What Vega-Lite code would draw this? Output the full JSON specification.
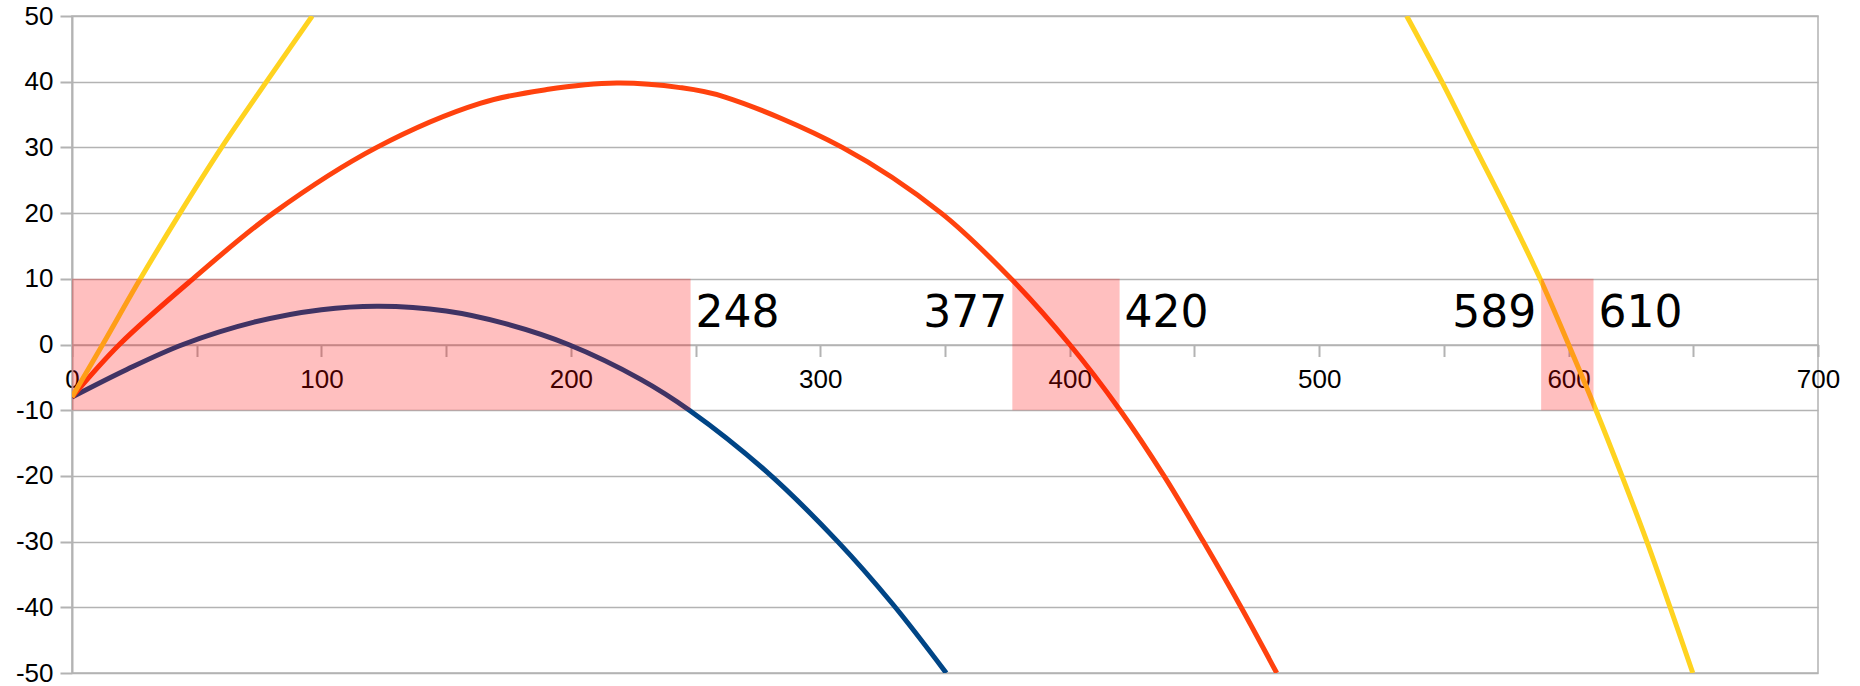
{
  "$schema": "https://vega.github.io/schema/vega-lite/v6.json",
  "width": 1746,
  "height": 657,
  "autosize": {"type": "none"},
  "padding": {"left": 72, "top": 16, "right": 42, "bottom": 13},
  "background": "white",
  "config": {
    "view": {"stroke": "#b3b3b3", "strokeWidth": 1.5}
  },
  "datasets": {
    "curves": [
      {"series": "a", "segment": "a", "x": 0, "y": -8},
      {"series": "a", "segment": "a", "x": 22, "y": -3.8},
      {"series": "a", "segment": "a", "x": 44.5, "y": 0},
      {"series": "a", "segment": "a", "x": 73, "y": 3.4},
      {"series": "a", "segment": "a", "x": 100, "y": 5.3},
      {"series": "a", "segment": "a", "x": 123, "y": 5.83},
      {"series": "a", "segment": "a", "x": 150, "y": 5.1},
      {"series": "a", "segment": "a", "x": 173, "y": 3.25},
      {"series": "a", "segment": "a", "x": 199, "y": 0},
      {"series": "a", "segment": "a", "x": 228, "y": -5.3},
      {"series": "a", "segment": "a", "x": 247.5, "y": -10},
      {"series": "a", "segment": "a", "x": 278, "y": -19.2},
      {"series": "a", "segment": "a", "x": 307, "y": -30.0},
      {"series": "a", "segment": "a", "x": 329, "y": -39.5},
      {"series": "a", "segment": "a", "x": 350.5, "y": -50},
      {"series": "b", "segment": "b", "x": 0, "y": -8},
      {"series": "b", "segment": "b", "x": 19, "y": 0},
      {"series": "b", "segment": "b", "x": 48.5, "y": 10},
      {"series": "b", "segment": "b", "x": 80.7, "y": 20},
      {"series": "b", "segment": "b", "x": 122.2, "y": 30},
      {"series": "b", "segment": "b", "x": 163.6, "y": 36.7},
      {"series": "b", "segment": "b", "x": 190.3, "y": 38.8},
      {"series": "b", "segment": "b", "x": 218.4, "y": 39.8},
      {"series": "b", "segment": "b", "x": 243.8, "y": 39.1},
      {"series": "b", "segment": "b", "x": 261.5, "y": 37.7},
      {"series": "b", "segment": "b", "x": 308.8, "y": 30},
      {"series": "b", "segment": "b", "x": 348.5, "y": 20},
      {"series": "b", "segment": "b", "x": 376.5, "y": 10},
      {"series": "b", "segment": "b", "x": 400, "y": 0},
      {"series": "b", "segment": "b", "x": 420.2, "y": -10},
      {"series": "b", "segment": "b", "x": 437.8, "y": -20},
      {"series": "b", "segment": "b", "x": 453.6, "y": -30},
      {"series": "b", "segment": "b", "x": 468.7, "y": -40},
      {"series": "b", "segment": "b", "x": 483, "y": -50},
      {"series": "c", "segment": "c1", "x": 0, "y": -8},
      {"series": "c", "segment": "c1", "x": 12.3, "y": 0},
      {"series": "c", "segment": "c1", "x": 27.4, "y": 10},
      {"series": "c", "segment": "c1", "x": 43.3, "y": 20},
      {"series": "c", "segment": "c1", "x": 60, "y": 30},
      {"series": "c", "segment": "c1", "x": 78, "y": 40},
      {"series": "c", "segment": "c1", "x": 96.3, "y": 50},
      {"series": "c", "segment": "c2", "x": 535.1, "y": 50},
      {"series": "c", "segment": "c2", "x": 549.2, "y": 40},
      {"series": "c", "segment": "c2", "x": 562.5, "y": 30},
      {"series": "c", "segment": "c2", "x": 575.9, "y": 20},
      {"series": "c", "segment": "c2", "x": 588.6, "y": 10},
      {"series": "c", "segment": "c2", "x": 600, "y": 0},
      {"series": "c", "segment": "c2", "x": 611, "y": -10},
      {"series": "c", "segment": "c2", "x": 621.4, "y": -20},
      {"series": "c", "segment": "c2", "x": 631.4, "y": -30},
      {"series": "c", "segment": "c2", "x": 640.7, "y": -40},
      {"series": "c", "segment": "c2", "x": 649.8, "y": -50}
    ],
    "zones": [
      {"start": 0, "end": 248},
      {"start": 377, "end": 420},
      {"start": 589, "end": 610}
    ]
  },
  "layer": [
    {
      "data": {"name": "curves"},
      "mark": {"type": "line", "strokeWidth": 5, "interpolate": "catmull-rom", "clip": true},
      "encoding": {
        "x": {
          "field": "x", "type": "quantitative", "title": null,
          "scale": {"domain": [0, 700], "nice": false, "zero": false},
          "axis": {
            "values": [0, 50, 100, 150, 200, 250, 300, 350, 400, 450, 500, 550, 600, 650, 700],
            "labelExpr": "datum.value % 100 == 0 ? '' + datum.value : ''",
            "offset": -328.5,
            "grid": false,
            "domainColor": "#b3b3b3", "domainWidth": 1.5,
            "tickColor": "#b3b3b3", "tickWidth": 2, "tickSize": 12,
            "labelFont": "Liberation Sans", "labelFontSize": 26, "labelColor": "#000000",
            "labelPadding": 10, "labelFlush": false, "labelOverlap": false
          }
        },
        "y": {
          "field": "y", "type": "quantitative", "title": null,
          "scale": {"domain": [-50, 50], "nice": false, "zero": false},
          "axis": {
            "values": [-50, -40, -30, -20, -10, 0, 10, 20, 30, 40, 50],
            "labelExpr": "'' + datum.value",
            "grid": true, "gridColor": "#b3b3b3", "gridWidth": 1.5,
            "domainColor": "#b3b3b3", "domainWidth": 2,
            "tickColor": "#b3b3b3", "tickWidth": 2, "tickSize": 12,
            "labelFont": "Liberation Sans", "labelFontSize": 26, "labelColor": "#000000",
            "labelPadding": 7, "labelFlush": false, "labelOverlap": false
          }
        },
        "color": {
          "field": "series", "type": "nominal",
          "scale": {"domain": ["a", "b", "c"], "range": ["#004586", "#ff420e", "#ffd320"]},
          "legend": null
        },
        "detail": {"field": "segment", "type": "nominal"}
      }
    },
    {
      "data": {"name": "zones"},
      "mark": {"type": "rect", "color": "#ff0000", "opacity": 0.25},
      "encoding": {
        "x": {"field": "start", "type": "quantitative", "title": null},
        "x2": {"field": "end"},
        "y": {"datum": -10},
        "y2": {"datum": 10}
      }
    },
    {
      "data": {"name": "zones"},
      "mark": {"type": "text", "align": "left", "baseline": "alphabetic", "dx": 5, "font": "DejaVu Sans", "fontSize": 44, "color": "#000000"},
      "encoding": {
        "x": {"field": "end", "type": "quantitative", "title": null},
        "y": {"datum": 2.6},
        "text": {"field": "end", "type": "quantitative"}
      }
    },
    {
      "data": {"name": "zones"},
      "transform": [{"filter": "datum.start > 0"}],
      "mark": {"type": "text", "align": "right", "baseline": "alphabetic", "dx": -5, "font": "DejaVu Sans", "fontSize": 44, "color": "#000000"},
      "encoding": {
        "x": {"field": "start", "type": "quantitative", "title": null},
        "y": {"datum": 2.6},
        "text": {"field": "start", "type": "quantitative"}
      }
    }
  ]
}
